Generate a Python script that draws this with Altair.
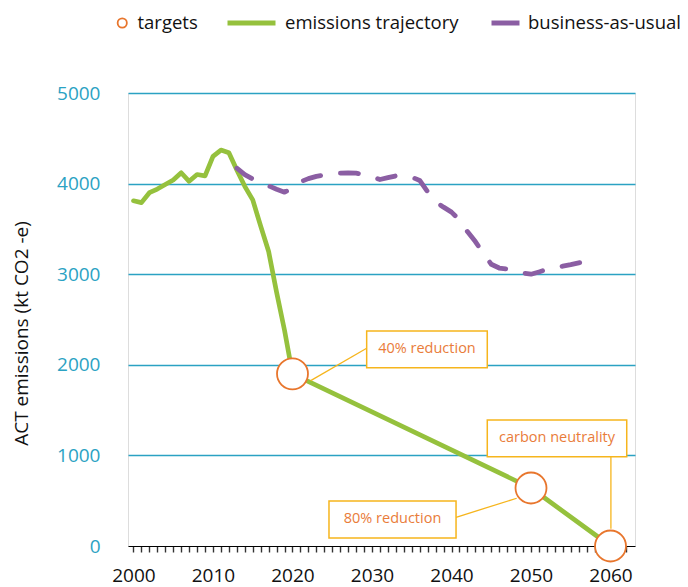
import altair as alt
import pandas as pd

# ---------------- data ----------------
em_years = list(range(2000, 2021)) + [2050, 2060]
em_values = [3810, 3790, 3900, 3940, 3990, 4040, 4120, 4025, 4100, 4085,
             4300, 4370, 4340, 4150, 3970, 3820, 3530, 3250, 2800, 2380,
             1900, 640, 0]

bau_years = list(range(2013, 2059))
bau_values = [4170, 4100, 4050, 4015, 3975, 3938, 3905, 3950, 4020, 4055,
              4080, 4095, 4108, 4116, 4118, 4115, 4100, 4078, 4045, 4065,
              4085, 4082, 4072, 4035, 3910, 3800, 3740, 3685, 3600, 3470,
              3360, 3230, 3110, 3068, 3056, 3042, 3012, 3000, 3025, 3052,
              3072, 3088, 3105, 3125, 3145, 3165]

target_years = [2020, 2050, 2060]
target_values = [1900, 640, 0]

ann_labels = ["40% reduction", "80% reduction", "carbon neutrality"]
ann_box_x1 = [2029.33, 2024.59, 2044.50]
ann_box_x2 = [2044.50, 2040.57, 2062.04]
ann_box_y1 = [2374, 497, 1391]
ann_box_y2 = [1968, 88, 986]
ann_line_x1 = [2022.29, 2040.57, 2060.05]
ann_line_y1 = [1825, 317, 986]
ann_line_x2 = [2029.33, 2048.2, 2060.05]
ann_line_y2 = [2183, 527, 190]

x_ticks = list(range(2000, 2063))
y_ticks = [0, 1000, 2000, 3000, 4000, 5000]

# ---------------- styles ----------------
GREEN = "#95c13d"
PURPLE = "#8b5ea3"
ORANGE = "#e8762d"
TEXT_ORANGE = "#e97c3a"
YELLOW = "#f6b51d"
TEAL = "#2ba2c3"
FONT = "Open Sans"

em_df = pd.DataFrame({"year": em_years, "value": em_values,
                      "series": "emissions trajectory"})
bau_df = pd.DataFrame({"year": bau_years, "value": bau_values,
                       "series": "business-as-usual"})
tg_df = pd.DataFrame({"year": target_years, "value": target_values,
                      "series": "targets"})
ann = pd.DataFrame({
    "label": ann_labels,
    "bx1": ann_box_x1, "bx2": ann_box_x2,
    "by1": ann_box_y1, "by2": ann_box_y2,
    "lx1": ann_line_x1, "ly1": ann_line_y1,
    "lx2": ann_line_x2, "ly2": ann_line_y2,
})
ann["tx"] = (ann["bx1"] + ann["bx2"]) / 2
ann["ty"] = (ann["by1"] + ann["by2"]) / 2

xscale = alt.Scale(domain=[1999.31, 2063.08], nice=False, zero=False)
yscale = alt.Scale(domain=[0, 5000], nice=False)

xaxis = alt.Axis(
    title=None, values=x_ticks, format="d",
    labelExpr="datum.value % 10 === 0 ? datum.label : ''",
    grid=False, domainColor="#000000", domainWidth=1,
    ticks=True, tickColor="#333333", tickSize=6, tickWidth=1.4, tickRound=True,
    tickOpacity=1,
    labelFont=FONT, labelFontSize=19, labelColor="#111111",
    labelPadding=14, labelOverlap=False, labelFlush=False,
)
yaxis = alt.Axis(
    title="ACT emissions (kt CO2 -e)", values=y_ticks, format="d",
    grid=True, gridColor=TEAL, gridWidth=1.4,
    gridOpacity={"condition": {"test": "datum.value === 0", "value": 0}, "value": 1},
    domain=False, ticks=False, tickSize=0,
    labelFont=FONT, labelFontSize=19, labelColor=TEAL, labelPadding=28,
    titleFont=FONT, titleFontSize=19, titleFontWeight="normal", titleColor="#111111",
    titleAngle=270, titleX=-101, titleY=240, titleAlign="center",
    titleBaseline="alphabetic",
)

def X(f):
    return alt.X(f"{f}:Q", scale=xscale, axis=xaxis)

def Y(f):
    return alt.Y(f"{f}:Q", scale=yscale, axis=yaxis)

LEG = dict(orient="none", legendY=-82, direction="horizontal", title=None,
           labelFont=FONT, labelFontSize=18.5, labelColor="#111111",
           labelLimit=400, clipHeight=24)

leg_targets = alt.Legend(legendX=-15, symbolType="circle", symbolSize=85,
                         symbolStrokeWidth=1.8, symbolFillColor="white",
                         labelOffset=6, **LEG)
leg_em = alt.Legend(legendX=97, symbolType="stroke", symbolSize=2304,
                    symbolStrokeWidth=5, labelOffset=7, **LEG)
leg_bau = alt.Legend(legendX=361, symbolType="stroke", symbolSize=784,
                     symbolStrokeWidth=5, symbolStrokeColor=PURPLE,
                     labelOffset=6, **LEG)

em_line = alt.Chart(em_df).mark_line(
    strokeWidth=4.7, strokeCap="round", strokeJoin="round"
).encode(
    x=X("year"), y=Y("value"),
    color=alt.Color("series:N", scale=alt.Scale(domain=["emissions trajectory"], range=[GREEN]),
                    legend=leg_em),
)

bau_line = alt.Chart(bau_df).mark_line(
    color=PURPLE, strokeWidth=4.8, strokeCap="round", strokeJoin="round", strokeDash=[18, 20]
).encode(
    x=X("year"), y=Y("value"),
    opacity=alt.Opacity("series:N", scale=alt.Scale(domain=["business-as-usual"], range=[1]),
                        legend=leg_bau),
)

connectors = alt.Chart(ann).mark_rule(color=YELLOW, strokeWidth=1.3).encode(
    x=X("lx1"), y=Y("ly1"), x2="lx2:Q", y2="ly2:Q")

targets = alt.Chart(tg_df).mark_point(
    shape="circle", fill="white", fillOpacity=1, size=960,
    strokeWidth=1.8, opacity=1
).encode(
    x=X("year"), y=Y("value"),
    stroke=alt.Stroke("series:N", scale=alt.Scale(domain=["targets"], range=[ORANGE]),
                      legend=leg_targets),
)

boxes = alt.Chart(ann).mark_rect(fill="white", stroke=YELLOW, strokeWidth=1.5).encode(
    x=X("bx1"), x2="bx2:Q", y=Y("by1"), y2="by2:Q")

labels = alt.Chart(ann).mark_text(
    font=FONT, fontSize=14.5, color=TEXT_ORANGE, align="center", baseline="middle"
).encode(x=X("tx"), y=Y("ty"), text="label:N")

chart = alt.layer(em_line, bau_line, connectors, targets, boxes, labels).properties(
    width=507, height=453,
    autosize=alt.AutoSizeParams(type="none"),
    padding={"left": 120, "top": 85, "right": 45, "bottom": 42},
).configure_view(stroke=None).configure(font=FONT)

chart.save("out.html", embed_options={"renderer": "svg", "actions": False})
